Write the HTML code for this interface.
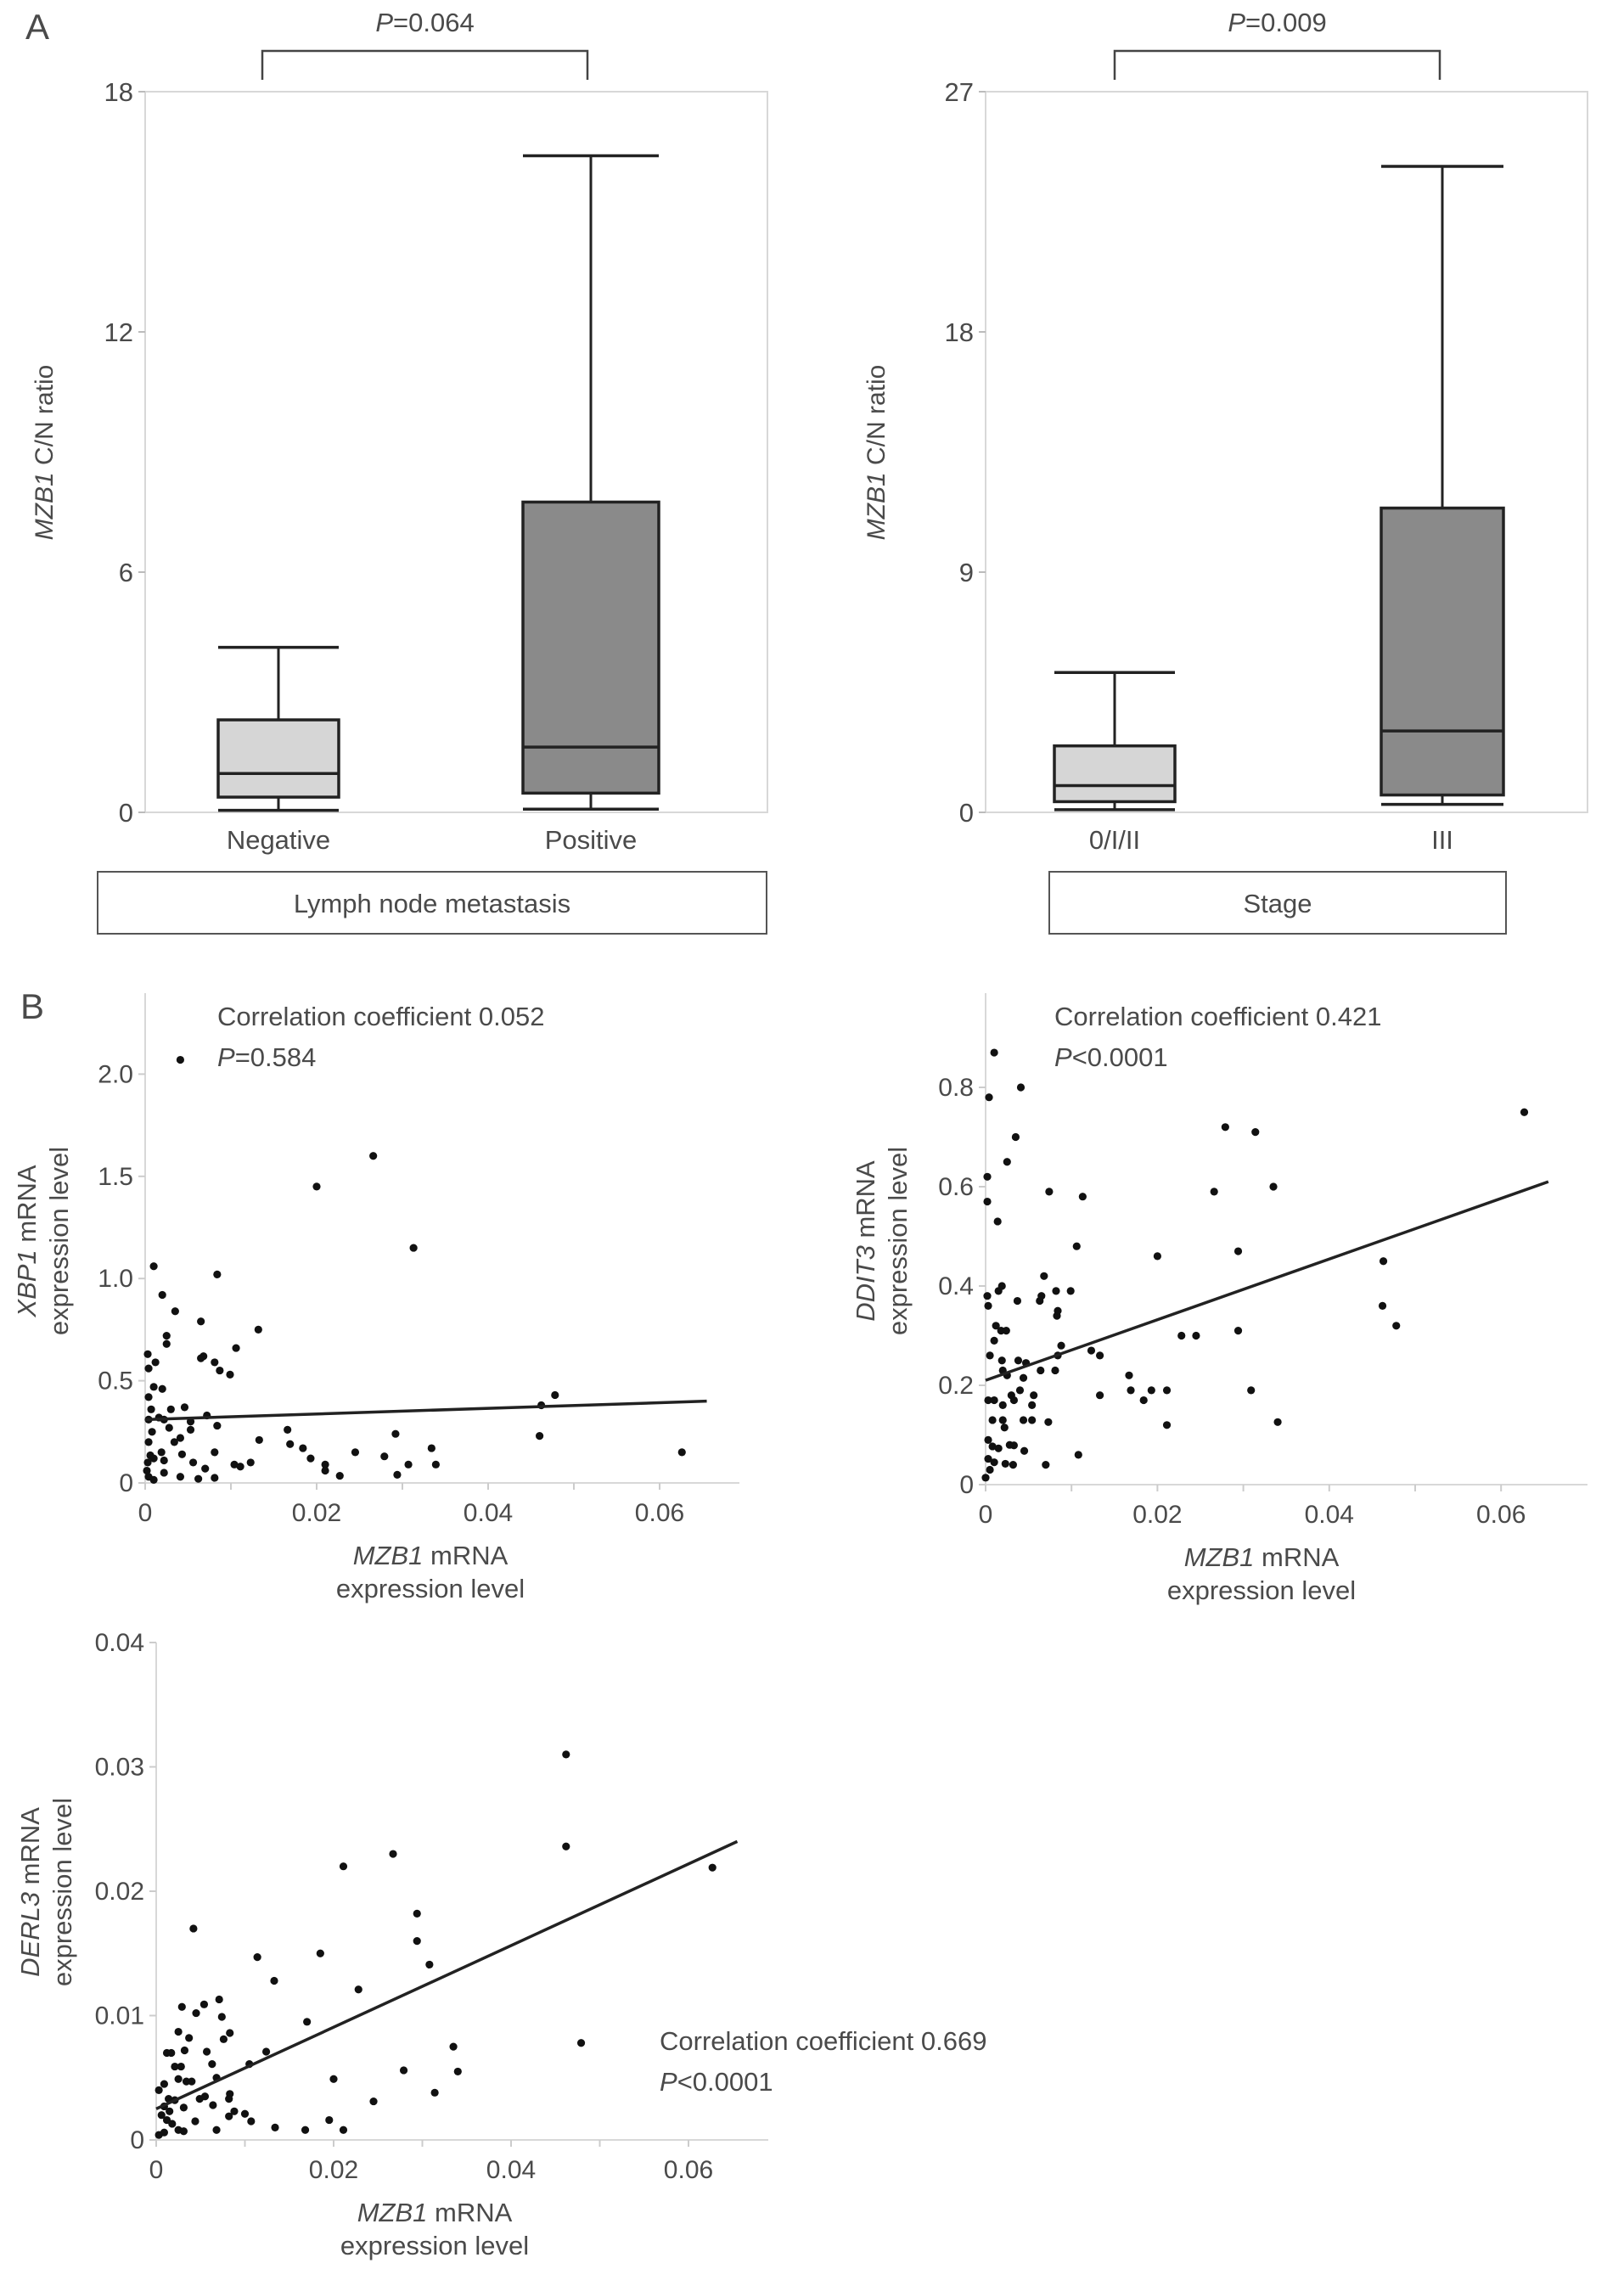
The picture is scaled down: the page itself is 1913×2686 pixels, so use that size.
<!DOCTYPE html>
<html><head><meta charset="utf-8">
<style>
html,body{margin:0;padding:0;background:#fff;}
svg{display:block;font-family:"Liberation Sans",Arial,sans-serif;}
.t{fill:#4a4a4a;}
</style></head>
<body>
<svg id="fig" width="1913" height="2686" viewBox="0 0 1913 2686" xmlns="http://www.w3.org/2000/svg">
<rect width="1913" height="2686" fill="#fff"/>
<text x="30" y="46" font-size="42" class="t">A</text>
<text x="24" y="1200" font-size="42" class="t">B</text>
<g id="root"></g>
</svg>
<script>
// ---------- Panel A data ----------
const boxCatsA1 = ["Negative", "Positive"];
const boxMinA1 = [0.05, 0.08];
const boxQ1A1 = [0.38, 0.48];
const boxMedA1 = [0.97, 1.63];
const boxQ3A1 = [2.31, 7.75];
const boxMaxA1 = [4.12, 16.4];
const yTicksA1 = [0, 6, 12, 18];

const boxCatsA2 = ["0/I/II", "III"];
const boxMinA2 = [0.1, 0.3];
const boxQ1A2 = [0.4, 0.65];
const boxMedA2 = [1.0, 3.05];
const boxQ3A2 = [2.49, 11.4];
const boxMaxA2 = [5.24, 24.2];
const yTicksA2 = [0, 9, 18, 27];

// ---------- Panel B data ----------
const xbpX = [0.0041,0.0266,0.020,0.0313,0.001,0.0084,0.002,0.0035,0.0065,0.0132,0.0025,0.0025,0.0106,0.0003,0.0012,0.0068,0.0065,0.0081,0.0087,0.0099,0.0004,0.001,0.002,0.0478,0.0462,0.0004,0.0046,0.003,0.0072,0.0007,0.0016,0.0022,0.0053,0.0084,0.0004,0.0028,0.0008,0.0053,0.0166,0.0292,0.046,0.0133,0.0041,0.0004,0.0034,0.0169,0.0334,0.0184,0.0245,0.0626,0.0081,0.0043,0.0019,0.0006,0.0279,0.001,0.0022,0.0193,0.0056,0.0003,0.0104,0.0123,0.0111,0.021,0.0307,0.0339,0.021,0.007,0.0294,0.0227,0.0022,0.0041,0.0062,0.0081,0.0004,0.001,0.0002];
const xbpY = [2.07,1.60,1.45,1.15,1.06,1.02,0.92,0.84,0.79,0.75,0.72,0.68,0.66,0.63,0.59,0.62,0.61,0.59,0.55,0.53,0.56,0.47,0.46,0.43,0.38,0.42,0.37,0.36,0.33,0.36,0.32,0.31,0.30,0.28,0.31,0.27,0.25,0.26,0.26,0.24,0.23,0.21,0.22,0.20,0.20,0.19,0.17,0.17,0.15,0.15,0.15,0.14,0.15,0.135,0.13,0.12,0.11,0.12,0.10,0.10,0.09,0.10,0.08,0.09,0.09,0.09,0.06,0.07,0.04,0.035,0.05,0.03,0.02,0.025,0.03,0.015,0.06];
const xbpFit = [0.31, 0.40];

const ddX = [0.001,0.0004,0.0041,0.0035,0.0025,0.0002,0.0002,0.0014,0.0074,0.0113,0.0106,0.0279,0.0314,0.0627,0.0266,0.0335,0.0294,0.020,0.0463,0.0462,0.0478,0.0294,0.0228,0.0245,0.0309,0.034,0.0211,0.0211,0.0193,0.0184,0.0169,0.0167,0.0133,0.0123,0.0133,0.0108,0.007,0.0068,0.0082,0.0099,0.0063,0.0065,0.0083,0.0084,0.0088,0.0084,0.0081,0.0064,0.0037,0.0015,0.0019,0.0002,0.0003,0.0012,0.0018,0.0024,0.001,0.0005,0.0019,0.0038,0.0047,0.002,0.0025,0.0044,0.0003,0.001,0.002,0.003,0.0033,0.004,0.0056,0.0054,0.0008,0.002,0.0022,0.0044,0.0054,0.0073,0.0003,0.0008,0.0015,0.0028,0.0033,0.0045,0.0003,0.001,0.0023,0.0032,0.0005,0.0];
const ddY = [0.87,0.78,0.80,0.70,0.65,0.62,0.57,0.53,0.59,0.58,0.48,0.72,0.71,0.75,0.59,0.60,0.47,0.46,0.45,0.36,0.32,0.31,0.30,0.30,0.19,0.126,0.12,0.19,0.19,0.17,0.19,0.22,0.18,0.27,0.26,0.06,0.04,0.42,0.39,0.39,0.37,0.38,0.34,0.35,0.28,0.26,0.23,0.23,0.37,0.39,0.40,0.38,0.36,0.32,0.31,0.31,0.29,0.26,0.25,0.25,0.245,0.23,0.22,0.215,0.17,0.17,0.16,0.18,0.17,0.19,0.18,0.16,0.13,0.13,0.115,0.13,0.13,0.126,0.09,0.077,0.073,0.08,0.079,0.068,0.052,0.045,0.042,0.04,0.03,0.014];
const ddFit = [0.21, 0.61];

const deX = [0.0462,0.0462,0.0267,0.0627,0.0211,0.0042,0.0294,0.0294,0.0308,0.0185,0.0114,0.0133,0.0228,0.017,0.0029,0.0054,0.0071,0.0045,0.0074,0.0025,0.0037,0.0083,0.0076,0.0032,0.0012,0.0017,0.0057,0.0124,0.0063,0.0105,0.0021,0.0028,0.0068,0.0335,0.0479,0.0279,0.034,0.02,0.0314,0.0245,0.0034,0.004,0.0025,0.0009,0.0003,0.0049,0.0055,0.0083,0.0082,0.0064,0.0014,0.0021,0.0031,0.0009,0.0015,0.0006,0.0012,0.0018,0.0025,0.0088,0.0082,0.01,0.0107,0.0044,0.0031,0.0068,0.0134,0.0168,0.0195,0.0211,0.0003,0.0009];
const deY = [0.031,0.0236,0.023,0.0219,0.022,0.017,0.0182,0.016,0.0141,0.015,0.0147,0.0128,0.0121,0.0095,0.0107,0.0109,0.0113,0.0102,0.0099,0.0087,0.0082,0.0086,0.0081,0.0072,0.007,0.007,0.0071,0.0071,0.0061,0.0061,0.0059,0.0059,0.005,0.0075,0.0078,0.0056,0.0055,0.0049,0.0038,0.0031,0.0047,0.0047,0.0049,0.0045,0.004,0.0033,0.0035,0.0037,0.0033,0.0028,0.0033,0.0032,0.0026,0.0027,0.0023,0.002,0.0016,0.0013,0.0008,0.0023,0.0019,0.0021,0.0015,0.0015,0.0007,0.0008,0.001,0.0008,0.0016,0.0008,0.0004,0.0006];
const deFit = [0.0025, 0.024];

const xTicksB = [0, 0.02, 0.04, 0.06];
const xTickLabelsB = ["0", "0.02", "0.04", "0.06"];
const yTicksB1 = [0, 0.5, 1.0, 1.5, 2.0];
const yTickLabelsB1 = ["0", "0.5", "1.0", "1.5", "2.0"];
const yTicksB2 = [0, 0.2, 0.4, 0.6, 0.8];
const yTickLabelsB2 = ["0", "0.2", "0.4", "0.6", "0.8"];
const yTicksB3 = [0, 0.01, 0.02, 0.03, 0.04];
const yTickLabelsB3 = ["0", "0.01", "0.02", "0.03", "0.04"];

const NS = "http://www.w3.org/2000/svg";
const root = document.getElementById("root");
function mk(tag, attrs, parent) {
  const e = document.createElementNS(NS, tag);
  for (const k in attrs) e.setAttribute(k, attrs[k]);
  (parent || root).appendChild(e);
  return e;
}

function boxPanel(cfg) {
  const g = mk("g", {});
  
  
  const L = cfg.left, R = cfg.right, T = 108, B = 957;
  const ymax = cfg.ticks[cfg.ticks.length - 1];
  const ys = v => B - (v / ymax) * (B - T);
  const frame = mk("rect", {x: L, y: T, width: R - L, height: B - T, fill: "none", stroke: "#d8d8d8", "stroke-width": 2}, g);
  
  
  cfg.ticks.forEach(t => {
    const tk = mk("line", {x1: L - 8, x2: L, y1: ys(t), y2: ys(t), stroke: "#bbb", "stroke-width": 2}, g);
    
    
    const tl = mk("text", {x: L - 14, y: ys(t) + 11, "text-anchor": "end", "font-size": 31, class: "t"}, g);
    tl.textContent = String(t);
    
    
  });
  const yl = mk("text", {x: 0, y: 0, transform: `translate(${cfg.ylabX},533) rotate(-90)`, "text-anchor": "middle", "font-size": 30, class: "t"}, g);
  yl.innerHTML = '<tspan font-style="italic">MZB1</tspan> C/N ratio';
  
  
  cfg.cats.forEach((c, i) => {
    const cx = cfg.cx[i], hw = cfg.hw[i];
    const bg = mk("g", {}, g);
    
    
    mk("line", {x1: cx, x2: cx, y1: ys(cfg.max[i]), y2: ys(cfg.q3[i]), stroke: "#222", "stroke-width": 3}, bg);
    mk("line", {x1: cx, x2: cx, y1: ys(cfg.q1[i]), y2: ys(cfg.min[i]), stroke: "#222", "stroke-width": 3}, bg);
    mk("line", {x1: cx - hw, x2: cx + hw, y1: ys(cfg.max[i]), y2: ys(cfg.max[i]), stroke: "#222", "stroke-width": 3.5}, bg);
    mk("line", {x1: cx - hw, x2: cx + hw, y1: ys(cfg.min[i]), y2: ys(cfg.min[i]), stroke: "#222", "stroke-width": 3.5}, bg);
    mk("rect", {x: cx - hw, y: ys(cfg.q3[i]), width: 2 * hw, height: ys(cfg.q1[i]) - ys(cfg.q3[i]), fill: cfg.fills[i], stroke: "#222", "stroke-width": 3.5}, bg);
    mk("line", {x1: cx - hw, x2: cx + hw, y1: ys(cfg.med[i]), y2: ys(cfg.med[i]), stroke: "#222", "stroke-width": 3.5}, bg);
    const xl = mk("text", {x: cx, y: 1000, "text-anchor": "middle", "font-size": 31, class: "t"}, g);
    xl.textContent = c;
    
    
  });
  const br = mk("path", {d: `M${cfg.bx[0]},94 V60 H${cfg.bx[1]} V94`, fill: "none", stroke: "#444", "stroke-width": 2.5}, g);
  
  
  const pt = mk("text", {x: (cfg.bx[0] + cfg.bx[1]) / 2, y: 37, "text-anchor": "middle", "font-size": 31, class: "t"}, g);
  pt.innerHTML = '<tspan font-style="italic">P</tspan>=' + cfg.p;
  
  
  const gb = mk("rect", {x: cfg.gx1, y: 1027, width: cfg.gx2 - cfg.gx1, height: 73, fill: "none", stroke: "#555", "stroke-width": 2}, g);
  
  
  const gt = mk("text", {x: (cfg.gx1 + cfg.gx2) / 2, y: 1075, "text-anchor": "middle", "font-size": 31, class: "t"}, g);
  gt.textContent = cfg.group;
  
  
}

boxPanel({name: "boxplot-lymph-node", left: 171, right: 904, ticks: yTicksA1, ylabX: 62, cats: boxCatsA1,
  min: boxMinA1, q1: boxQ1A1, med: boxMedA1, q3: boxQ3A1, max: boxMaxA1, cx: [328, 696], hw: [71, 80],
  bx: [309, 692], fills: ["#d6d6d6", "#8a8a8a"], p: "0.064", gx1: 115, gx2: 903, group: "Lymph node metastasis"});
boxPanel({name: "boxplot-stage", left: 1161, right: 1870, ticks: yTicksA2, ylabX: 1042, cats: boxCatsA2,
  min: boxMinA2, q1: boxQ1A2, med: boxMedA2, q3: boxQ3A2, max: boxMaxA2, cx: [1313, 1699], hw: [71, 72],
  bx: [1313, 1696], fills: ["#d6d6d6", "#8a8a8a"], p: "0.009", gx1: 1236, gx2: 1774, group: "Stage"});

function scatter(cfg) {
  const g = mk("g", {});
  
  
  const xs = v => cfg.x0 + v * cfg.xk;
  const ys = v => cfg.y0 - v * cfg.yk;
  const ax = mk("path", {d: `M${cfg.x0},${cfg.top} V${cfg.y0} H${cfg.xend}`, fill: "none", stroke: "#d8d8d8", "stroke-width": 2}, g);
  
  
  for (let k = 0; k <= 6; k++) {
    const tk = mk("line", {x1: xs(k * 0.01), x2: xs(k * 0.01), y1: cfg.y0, y2: cfg.y0 + 8, stroke: "#ccc", "stroke-width": 2}, g);
    
    
  }
  xTicksB.forEach((t, i) => {
    const tl = mk("text", {x: xs(t), y: cfg.y0 + 45, "text-anchor": "middle", "font-size": 30, class: "t"}, g);
    tl.textContent = xTickLabelsB[i];
    
    
  });
  cfg.yt.forEach((t, i) => {
    const tk = mk("line", {x1: cfg.x0 - 8, x2: cfg.x0, y1: ys(t), y2: ys(t), stroke: "#ccc", "stroke-width": 2}, g);
    
    
    const tl = mk("text", {x: cfg.x0 - 14, y: ys(t) + 10, "text-anchor": "end", "font-size": 30, class: "t"}, g);
    tl.textContent = cfg.ytl[i];
    
    
  });
  const yl = mk("text", {transform: `translate(${cfg.ylx},${cfg.yly}) rotate(-90)`, "text-anchor": "middle", "font-size": 31, class: "t"}, g);
  yl.innerHTML = `<tspan x="0" dy="0"><tspan font-style="italic">${cfg.gene}</tspan> mRNA</tspan><tspan x="0" dy="38">expression level</tspan>`;
  
  
  const xl = mk("text", {x: cfg.xlx, y: cfg.y0 + 96, "text-anchor": "middle", "font-size": 31, class: "t"}, g);
  xl.innerHTML = `<tspan x="${cfg.xlx}"><tspan font-style="italic">MZB1</tspan> mRNA</tspan><tspan x="${cfg.xlx}" dy="39">expression level</tspan>`;
  
  
  cfg.xd.forEach((v, i) => {
    const c = mk("circle", {cx: xs(v), cy: ys(cfg.yd[i]), r: 4.6, fill: "#111"}, g);
    
    
  });
  const fl = mk("line", {x1: xs(0), y1: ys(cfg.fit[0]), x2: xs(0.0655), y2: ys(cfg.fit[1]), stroke: "#222", "stroke-width": 3.5}, g);
  
  
  const a1 = mk("text", {x: cfg.ax, y: cfg.ay, "font-size": 31, class: "t"}, g);
  a1.textContent = "Correlation coefficient " + cfg.r;
  
  
  const a2 = mk("text", {x: cfg.ax, y: cfg.ay + 48, "font-size": 31, class: "t"}, g);
  a2.innerHTML = '<tspan font-style="italic">P</tspan>' + cfg.p;
  
  
}

scatter({name: "scatter-xbp1", x0: 171, xk: 10100, xend: 871, y0: 1747, yk: 240.8, top: 1170,
  yt: yTicksB1, ytl: yTickLabelsB1, gene: "XBP1", ylx: 42, yly: 1462, xlx: 507,
  xd: xbpX, yd: xbpY, fit: xbpFit, ax: 256, ay: 1208, r: "0.052", p: "=0.584"});
scatter({name: "scatter-ddit3", x0: 1161, xk: 10120, xend: 1870, y0: 1749, yk: 585, top: 1170,
  yt: yTicksB2, ytl: yTickLabelsB2, gene: "DDIT3", ylx: 1030, yly: 1462, xlx: 1486,
  xd: ddX, yd: ddY, fit: ddFit, ax: 1242, ay: 1208, r: "0.421", p: "&lt;0.0001"});
scatter({name: "scatter-derl3", x0: 184, xk: 10450, xend: 905, y0: 2521, yk: 14650, top: 1935,
  yt: yTicksB3, ytl: yTickLabelsB3, gene: "DERL3", ylx: 46, yly: 2229, xlx: 512,
  xd: deX, yd: deY, fit: deFit, ax: 777, ay: 2415, r: "0.669", p: "&lt;0.0001"});
</script>
</body></html>
